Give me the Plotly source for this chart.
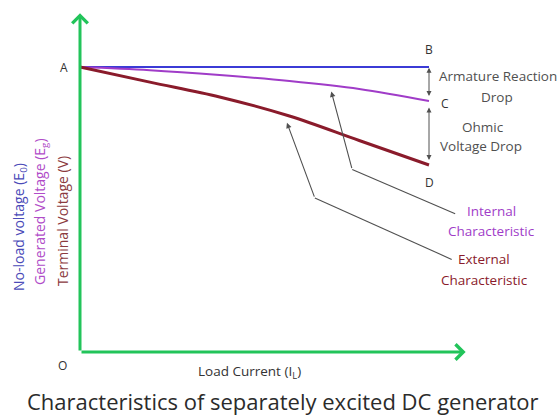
import numpy as np
import plotly.graph_objects as go

# Load current (arbitrary units) and the three voltage characteristics
load_current = [0, 2, 4, 6, 8, 10]
no_load_voltage = [100, 100, 100, 100, 100, 100]
generated_voltage = [100, 98.9, 97.2, 95.1, 92.3, 88.1]
terminal_voltage = [100, 94.7, 89.5, 82.8, 74.2, 65.6]

title_text = "Characteristics of separately excited DC generator"
x_label = "Load Current (I<sub>L</sub>)"
y_labels = ["No-load voltage (E<sub>0</sub>)", "Generated Voltage (E<sub>g</sub>)", "Terminal Voltage (V)"]

W, H = 560, 415
# pixel scale of one data unit
SX, SY = 34.9, 2.85
X0_PX, Y0_PX = 80, 352

BLUE = "#3b3bd6"
PURPLE = "#a03cc8"
MAROON = "#8a1b2b"
GREEN = "#22c45a"
GRAY = "#505050"
FONT = "'Open Sans', Lato, sans-serif"

x_end = load_current[-1]
e0_end = no_load_voltage[-1]
eg_end = generated_voltage[-1]
v_end = terminal_voltage[-1]

fig = go.Figure()
fig.add_trace(go.Scatter(x=load_current, y=no_load_voltage, mode="lines",
                         line=dict(color=BLUE, width=2), hoverinfo="skip"))
fig.add_trace(go.Scatter(x=load_current, y=generated_voltage, mode="lines",
                         line=dict(color=PURPLE, width=2, shape="spline"), hoverinfo="skip"))
fig.add_trace(go.Scatter(x=load_current, y=terminal_voltage, mode="lines",
                         line=dict(color=MAROON, width=3, shape="spline"), hoverinfo="skip"))

ann = []

def arrow(x, y, ax, ay, color, width, head=4, size=1.0, side="end"):
    ann.append(dict(x=x, y=y, ax=ax, ay=ay, xref="x", yref="y", axref="x", ayref="y",
                    text="", showarrow=True, arrowhead=head, startarrowhead=head,
                    arrowsize=size, startarrowsize=size, arrowwidth=width,
                    arrowcolor=color, arrowside=side, standoff=0, startstandoff=0))

def label(x, y, text, color=GRAY, size=11, xanchor="center", angle=0):
    ann.append(dict(x=x, y=y, xref="x", yref="y", text=text, showarrow=False,
                    font=dict(family=FONT, size=size, color=color),
                    xanchor=xanchor, yanchor="middle", textangle=angle))

# green axes with arrow heads
arrow(0, 118.9, 0, 0, GREEN, 3, head=4, size=1.0)
arrow(11.05, 0, 0, 0, GREEN, 3, head=4, size=1.0)

# drop indicators between the curves at full load
arrow(x_end, e0_end - 0.3, x_end, eg_end + 1.2, GRAY, 1, head=2, size=1.0, side="end+start")
arrow(x_end, eg_end - 2.3, x_end, v_end + 1.2, GRAY, 1, head=2, size=1.0, side="end+start")

# pointers to the internal and external characteristics
xi = 7.2
yi = float(np.interp(xi, load_current, generated_voltage)) - 2.0
arrow(xi, yi, 7.8, 64.0, GRAY, 1.1, head=2, size=1.0)
fig.add_shape(type="line", x0=7.8, y0=64.0, x1=10.75, y1=48.5,
              line=dict(color=GRAY, width=1.1))
xe = 5.93
ye = float(np.interp(xe, load_current, terminal_voltage)) - 2.6
arrow(xe, ye, 6.73, 54.0, GRAY, 1.1, head=2, size=1.0)
fig.add_shape(type="line", x0=6.73, y0=54.0, x1=10.65, y1=32.5,
              line=dict(color=GRAY, width=1.1))

# point labels
label(-0.45, e0_end, "A", size=12, color="#333333")
label(-0.5, -4.6, "O", size=12, color="#333333")
label(x_end, e0_end + 6.3, "B", size=12, color="#333333")
label(x_end + 0.45, eg_end - 0.8, "C", size=12, color="#333333")
label(x_end, v_end - 6.0, "D", size=12, color="#333333")

label(11.97, 97.0, "Armature Reaction", size=13.5)
label(11.95, 89.6, "Drop", size=13.5)
label(11.55, 78.8, "Ohmic", size=13.5)
label(11.5, 72.3, "Voltage Drop", size=13.5)

label(11.78, 49.4, "Internal", color=PURPLE, size=13.5)
label(11.78, 42.5, "Characteristic", color=PURPLE, size=13.5)
label(11.58, 32.6, "External", color=MAROON, size=13.5)
label(11.58, 25.3, "Characteristic", color=MAROON, size=13.5)

label(4.85, -7.0, x_label, size=13.5, color="#333333")

# y-axis labels, rotated
for xpx, ypx, txt, col in [(19, 227, y_labels[0], "#4a4ab8"),
                           (40, 212, y_labels[1], "#b04cc8"),
                           (62, 221, y_labels[2], "#8b3a40")]:
    label((xpx - X0_PX) / SX, (Y0_PX - ypx) / SY, txt, color=col, size=14, angle=-90)

label(5.82, -17.2, title_text, size=22, color="#2b2b2b")

fig.update_layout(
    width=W, height=H,
    margin=dict(l=0, r=0, t=0, b=0),
    paper_bgcolor="white", plot_bgcolor="white",
    showlegend=False,
    annotations=ann,
    xaxis=dict(range=[-X0_PX / SX, (W - X0_PX) / SX], visible=False, fixedrange=True),
    yaxis=dict(range=[-(H - Y0_PX) / SY, Y0_PX / SY], visible=False, fixedrange=True),
)

fig.write_html("out.html")
